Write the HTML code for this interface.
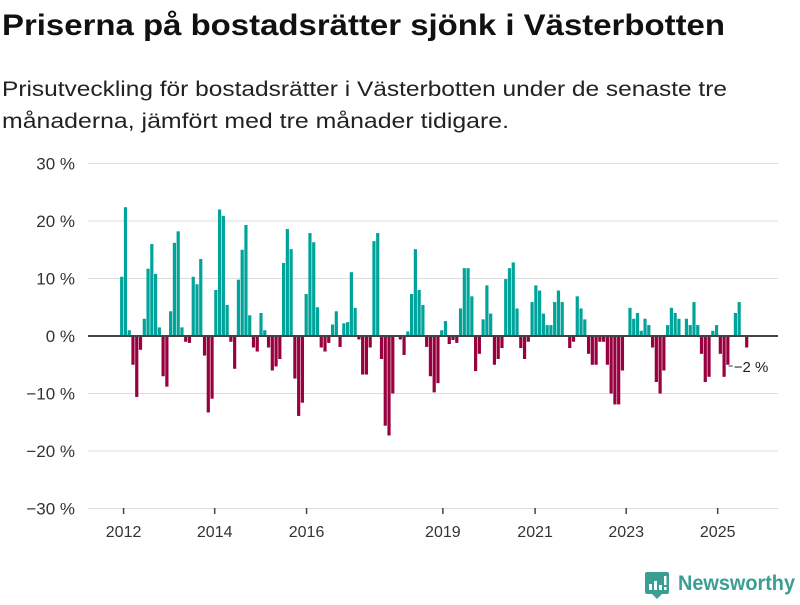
<!DOCTYPE html>
<html><head><meta charset="utf-8"><style>
body{margin:0;width:800px;height:600px;background:#fff;font-family:"Liberation Sans",sans-serif;overflow:hidden}
</style></head><body>
<svg id="c" width="800" height="600" xmlns="http://www.w3.org/2000/svg">
<text x="2" y="35" font-size="30" font-weight="bold" fill="#111" textLength="723" lengthAdjust="spacingAndGlyphs">Priserna på bostadsrätter sjönk i Västerbotten</text>
<text x="2" y="96" font-size="21" fill="#222" textLength="725" lengthAdjust="spacingAndGlyphs">Prisutveckling för bostadsrätter i Västerbotten under de senaste tre</text>
<text x="2" y="128" font-size="21" fill="#222" textLength="507" lengthAdjust="spacingAndGlyphs">månaderna, jämfört med tre månader tidigare.</text>
<g id="grid"></g><g id="bars"></g><g id="axes"></g>
<g>
<rect x="645" y="572" width="24" height="22" rx="2" fill="#3a9e95"/>
<path d="M652 594 L657 599 L662 594 Z" fill="#3a9e95"/>
<rect x="649" y="584" width="3" height="6" fill="#fff"/><rect x="654" y="581" width="3" height="9" fill="#fff"/><rect x="659" y="585" width="3" height="5" fill="#fff"/><rect x="664" y="576" width="2.5" height="9" fill="#fff"/><rect x="664" y="587" width="2.5" height="3" fill="#fff"/>
<text x="678" y="590" font-size="21" font-weight="bold" fill="#3a9e95" textLength="117" lengthAdjust="spacingAndGlyphs">Newsworthy</text>
</g>
</svg>
<script>
const values=[10.3,22.4,1,-5,-10.6,-2.4,3,11.7,16,10.8,1.5,-7,-8.8,4.3,16.2,18.2,1.5,-1,-1.2,10.3,9,13.4,-3.4,-13.3,-10.9,8,22,20.9,5.4,-1,-5.7,9.8,15,19.3,3.6,-2,-2.7,4,1,-2,-6,-5.3,-4,12.7,18.6,15.1,-7.4,-13.9,-11.6,7.3,17.9,16.3,5,-2,-2.7,-1.2,2,4.3,-1.9,2.2,2.4,11.1,4.9,-0.6,-6.7,-6.7,-2,16.5,17.9,-4,-15.6,-17.3,-10,0,-0.6,-3.3,0.8,7.3,15.1,8,5.4,-1.9,-7,-9.8,-8.2,1,2.6,-1.4,-0.7,-1.2,4.8,11.8,11.8,6.9,-6.1,-3.1,2.9,8.8,3.9,-5,-4,-2.1,9.9,11.8,12.8,4.8,-2.1,-4,-1,5.9,8.8,7.9,3.9,1.9,1.9,5.9,7.9,5.9,0,-2.1,-1,6.9,4.8,2.9,-3.1,-5,-5,-1,-1,-5,-10,-11.9,-11.9,-6,0,4.9,3,4,0.9,3,1.9,-2,-8,-10,-6,1.9,4.9,4,3,0,3,1.9,5.9,1.9,-3.1,-8,-7.1,0.9,1.9,-3.1,-7.1,-5,0,4,5.9,0,-2];
const yTicks=[30,20,10,0,-10,-20,-30];
const yTickLabels=["30 %","20 %","10 %","0 %","−10 %","−20 %","−30 %"];
const xTickLabels=["2012","2014","2016","2019","2021","2023","2025"];
const xTickIndex=[0.5,24.7,49.1,85.3,109.8,134,158.3];
const annotation="−2 %";
const NS="http://www.w3.org/2000/svg";
const y=v=>336-v*5.75;
const x=i=>121.7+i*3.765;
function mk(t,a,p){const e=document.createElementNS(NS,t);for(const k in a)e.setAttribute(k,a[k]);p.appendChild(e);return e;}
const grid=document.getElementById('grid'),bars=document.getElementById('bars'),axes=document.getElementById('axes');
yTicks.forEach((v,k)=>{
 if(v!==0){const l=mk('line',{x1:88,x2:778,y1:y(v),y2:y(v),stroke:'#ddd','stroke-width':1},grid);
 
 }
 const t=mk('text',{x:75,y:y(v)+6,'text-anchor':'end','font-size':17,fill:'#333'},axes);
 t.textContent=yTickLabels[k];
 
 
});
values.forEach((v,i)=>{
 if(v===0)return;
 const r=mk('rect',{x:x(i)-1.6,width:3.2,y:Math.min(y(v),336),height:Math.abs(y(v)-336),fill:v>0?'#00a49a':'#980040'},bars);
 
 
});
const base=mk('line',{x1:88,x2:778,y1:336,y2:336,stroke:'#444','stroke-width':2},axes);


xTickLabels.forEach((lab,k)=>{
 const px=x(xTickIndex[k]);
 const tk=mk('line',{x1:px,x2:px,y1:508,y2:514,stroke:'#444','stroke-width':1.5},axes);
 
 
 const t=mk('text',{x:px,y:537,'text-anchor':'middle','font-size':16,fill:'#333'},axes);
 t.textContent=lab;
 
 
});
const last=values.length-1;
const ld=mk('line',{x1:x(last)-18,x2:x(last)-14,y1:366,y2:366,stroke:'#333','stroke-width':1},axes);


const at=mk('text',{x:x(last)-13,y:372,'font-size':15,fill:'#222'},axes);
at.textContent=annotation;


</script>
</body></html>
